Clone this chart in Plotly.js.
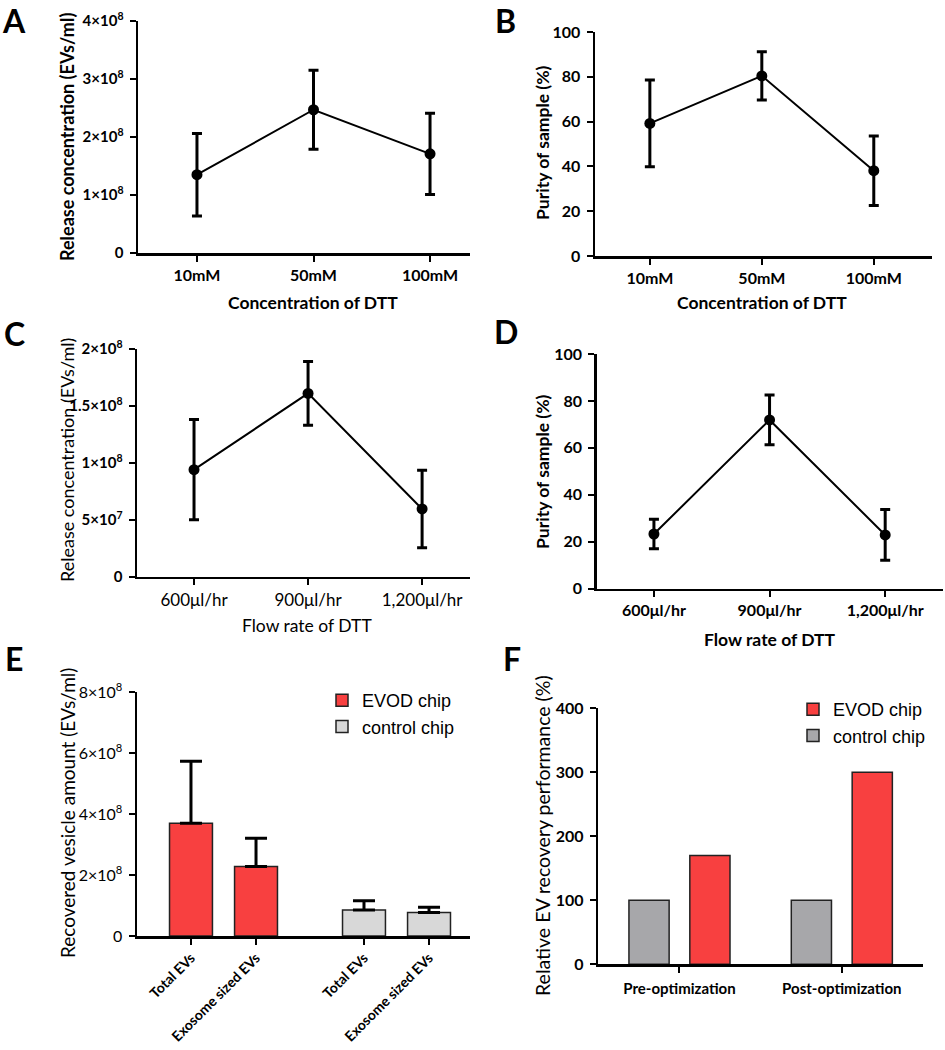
<!DOCTYPE html>
<html>
<head>
<meta charset="utf-8">
<script src="https://cdn.plot.ly/plotly-3.0.1.min.js"></script>
<style>
  body { margin: 0; background: #fff; }
  #chart { width: 945px; height: 1050px; }
</style>
</head>
<body>
<div id="chart"></div>
<script>
// ---- data ----
var dttConc = ['10mM', '50mM', '100mM'];
var releaseByConc = [1.35e8, 2.47e8, 1.71e8];
var releaseByConcErr = [0.71e8, 0.68e8, 0.70e8];
var purityByConc = [59.2, 80.4, 38.1];
var purityByConcErr = [19.4, 10.8, 15.5];

var flowRates = ['600\u03bcl/hr', '900\u03bcl/hr', '1,200\u03bcl/hr'];
var releaseByFlow = [0.94e8, 1.61e8, 0.595e8];
var releaseByFlowErr = [0.44e8, 0.28e8, 0.34e8];
var purityByFlow = [23.3, 71.9, 22.9];
var purityByFlowErr = [6.3, 10.6, 10.8];

var evTypes = ['Total EVs', 'Exosome sized EVs'];
var evodAmount = [3.70e8, 2.28e8];
var evodAmountErr = [2.04e8, 0.93e8];
var controlAmount = [0.85e8, 0.77e8];
var controlAmountErr = [0.31e8, 0.17e8];

var phases = ['Pre-optimization', 'Post-optimization'];
var evodRelative = [170, 300];
var controlRelative = [100, 100];

// ---- helpers ----
var W = 945, H = 1050;
var RED = '#f84040', LIGHTGREY = '#d8d8d8', GREY = '#a7a7aa', EDGE = '#222';
var FONT = 'Lato, "Open Sans", sans-serif';

function px(x) { return x / W; }
function py(y) { return 1 - y / H; }

function sup(v, exp) { return v + '\u00d710<sup>' + exp + '</sup>'; }

function tf(size, weight) { return {family: FONT, size: size, color: '#000', weight: weight}; }

function baseAxis() {
  return {
    showline: true, linecolor: '#000', linewidth: 2.5,
    ticks: 'outside', ticklen: 6, tickwidth: 2, tickcolor: '#000',
    showgrid: false, zeroline: false, fixedrange: true, automargin: false,
    tickfont: tf(15, 'bold')
  };
}

function xAxis(x0, x1, range, anchor, extra) {
  var a = baseAxis();
  a.domain = [px(x0), px(x1)];
  a.range = range;
  a.anchor = anchor;
  a.ticklabelstandoff = 0;
  a.tickfont = tf(16, 'bold');
  return Object.assign(a, extra || {});
}

function yAxis(yBottom, yTop, range, anchor, vals, text, extra) {
  var a = baseAxis();
  a.domain = [py(yBottom), py(yTop)];
  a.range = range;
  a.anchor = anchor;
  a.tickvals = vals;
  a.ticktext = text;
  a.ticklabelstandoff = 3;
  return Object.assign(a, extra || {});
}

function lineTrace(x, y, err, xa, ya) {
  return {
    x: x, y: y, xaxis: xa, yaxis: ya, type: 'scatter', mode: 'lines+markers',
    line: {color: '#000', width: 2},
    marker: {color: '#000', size: 11},
    error_y: {type: 'data', array: err, visible: true, color: '#000', thickness: 3, width: 5},
    showlegend: false, hoverinfo: 'skip'
  };
}

function label(text, x, y, size, weight, angle) {
  return {
    text: text, x: px(x), y: py(y), xref: 'paper', yref: 'paper',
    xanchor: 'center', yanchor: 'middle', showarrow: false, textangle: angle || 0,
    font: tf(size, weight)
  };
}

// panel E bar positions: two groups with a wider gap between them
var groupStep = 2.66;
var evodPos = evTypes.map(function (_, i) { return i; });
var controlPos = evTypes.map(function (_, i) { return groupStep + i; });

var data = [
  lineTrace(dttConc, releaseByConc, releaseByConcErr, 'x', 'y'),
  lineTrace(dttConc, purityByConc, purityByConcErr, 'x2', 'y2'),
  lineTrace(flowRates, releaseByFlow, releaseByFlowErr, 'x3', 'y3'),
  lineTrace(flowRates, purityByFlow, purityByFlowErr, 'x4', 'y4'),
  {
    name: 'EVOD chip', x: evodPos, y: evodAmount, xaxis: 'x5', yaxis: 'y5', type: 'bar',
    width: 0.66, marker: {color: RED, line: {color: EDGE, width: 1.5}},
    error_y: {type: 'data', symmetric: false, array: evodAmountErr, arrayminus: [0, 0],
      color: '#000', thickness: 3, width: 11},
    legend: 'legend', hoverinfo: 'skip'
  },
  {
    name: 'control chip', x: controlPos, y: controlAmount, xaxis: 'x5', yaxis: 'y5', type: 'bar',
    width: 0.66, marker: {color: LIGHTGREY, line: {color: EDGE, width: 1.5}},
    error_y: {type: 'data', symmetric: false, array: controlAmountErr, arrayminus: [0, 0],
      color: '#000', thickness: 3, width: 11},
    legend: 'legend', hoverinfo: 'skip'
  },
  {
    name: 'control chip', x: phases, y: controlRelative, xaxis: 'x6', yaxis: 'y6', type: 'bar',
    marker: {color: GREY, line: {color: EDGE, width: 1.5}},
    legend: 'legend2', legendrank: 2, hoverinfo: 'skip'
  },
  {
    name: 'EVOD chip', x: phases, y: evodRelative, xaxis: 'x6', yaxis: 'y6', type: 'bar',
    marker: {color: RED, line: {color: EDGE, width: 1.5}},
    legend: 'legend2', legendrank: 1, hoverinfo: 'skip'
  }
];

var legendStyle = {
  bgcolor: 'rgba(0,0,0,0)', borderwidth: 0, xanchor: 'left', yanchor: 'top',
  font: {family: 'Liberation Sans, Arial, sans-serif', size: 18, color: '#000'},
  itemwidth: 30, tracegroupgap: 4
};

var layout = {
  width: W, height: H,
  margin: {l: 0, r: 0, t: 0, b: 0},
  paper_bgcolor: '#fff', plot_bgcolor: 'rgba(0,0,0,0)',
  barmode: 'group', bargap: 0.25, bargroupgap: 0.34,
  showlegend: true,

  xaxis: xAxis(138, 470, [-0.506, 2.343], 'y', {type: 'category'}),
  yaxis: yAxis(253, 21, [0, 4e8], 'x', [0, 1e8, 2e8, 3e8, 4e8],
    ['0', sup(1, 8), sup(2, 8), sup(3, 8), sup(4, 8)]),

  xaxis2: xAxis(595, 932, [-0.49, 2.52], 'y2', {type: 'category'}),
  yaxis2: yAxis(256, 32, [0, 100], 'x2', [0, 20, 40, 60, 80, 100],
    ['0', '20', '40', '60', '80', '100'], {tickfont: tf(16, 'bold')}),

  xaxis3: xAxis(137, 470, [-0.5, 2.42], 'y3', {type: 'category', tickfont: tf(17, 'normal')}),
  yaxis3: yAxis(576.7, 349, [0, 2e8], 'x3', [0, 0.5e8, 1e8, 1.5e8, 2e8],
    ['0', sup(5, 7), sup(1, 8), sup('1.5', 8), sup(2, 8)]),

  xaxis4: xAxis(596.7, 943, [-0.495, 2.5], 'y4', {type: 'category'}),
  yaxis4: yAxis(588.7, 354, [0, 100], 'x4', [0, 20, 40, 60, 80, 100],
    ['0', '20', '40', '60', '80', '100'], {tickfont: tf(16, 'bold')}),

  xaxis5: xAxis(137, 470, [-0.83, 4.29], 'y5', {
    tickvals: evodPos.concat(controlPos), ticktext: evTypes.concat(evTypes),
    tickangle: -45, tickfont: tf(14, 'bold')}),
  yaxis5: yAxis(936, 692.3, [0, 8e8], 'x5', [0, 2e8, 4e8, 6e8, 8e8],
    ['0', sup(2, 8), sup(4, 8), sup(6, 8), sup(8, 8)], {tickfont: tf(16, 'normal')}),

  xaxis6: xAxis(598.3, 923, [-0.5, 1.5], 'y6', {type: 'category',
    tickfont: tf(15, 'bold'), ticklabelstandoff: 3}),
  yaxis6: yAxis(964.3, 708.3, [0, 400], 'x6', [0, 100, 200, 300, 400],
    ['0', '100', '200', '300', '400'], {tickfont: tf(16, 'bold')}),

  legend: Object.assign({x: px(322), y: py(682)}, legendStyle),
  legend2: Object.assign({x: px(793), y: py(691)}, legendStyle),

  annotations: [
    label('A', 14, 20, 32, 'bold'),
    label('B', 506, 20, 32, 'bold'),
    label('C', 14, 333, 32, 'bold'),
    label('D', 506, 331, 32, 'bold'),
    label('E', 14, 658, 32, 'bold'),
    label('F', 512, 658, 32, 'bold'),

    label('Release concentration (EVs/ml)', 67, 137, 18, 'bold', -90),
    label('Concentration of DTT', 313, 302, 17.5, 'bold'),
    label('Purity of sample (%)', 542, 143, 17.5, 'bold', -90),
    label('Concentration of DTT', 762, 302, 17.5, 'bold'),
    label('Release concentration (EVs/ml)', 67, 460, 18, 'normal', -90),
    label('Flow rate of DTT', 307, 625, 17.5, 'normal'),
    label('Purity of sample (%)', 542, 472, 17.5, 'bold', -90),
    label('Flow rate of DTT', 770, 639, 17.5, 'bold'),
    label('Recovered vesicle amount (EVs/ml)', 67, 813, 19, 'normal', -90),
    label('Relative EV recovery performance (%)', 542, 836, 19.5, 'normal', -90)
  ]
};

Plotly.newPlot('chart', data, layout, {staticPlot: true});
</script>
</body>
</html>
